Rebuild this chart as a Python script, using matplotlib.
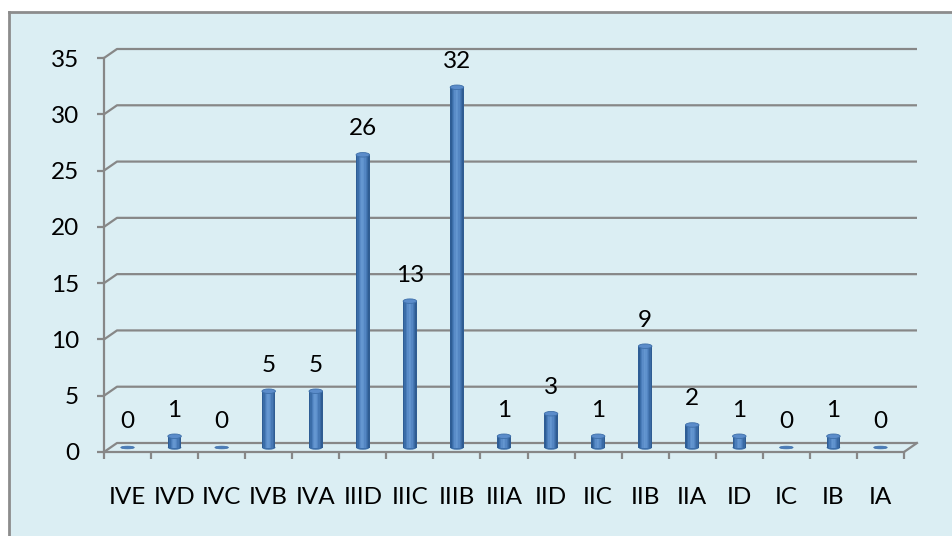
import matplotlib.pyplot as plt
from matplotlib.patches import Ellipse, Rectangle
from matplotlib.lines import Line2D

# data
stages = ['IVE', 'IVD', 'IVC', 'IVB', 'IVA', 'IIID', 'IIIC', 'IIIB', 'IIIA',
          'IID', 'IIC', 'IIB', 'IIA', 'ID', 'IC', 'IB', 'IA']
counts = [0, 1, 0, 5, 5, 26, 13, 32, 1, 3, 1, 9, 2, 1, 0, 1, 0]
y_ticks = [0, 5, 10, 15, 20, 25, 30, 35]

BG = '#DBEEF3'
GRID = '#878787'
plt.rcParams['font.family'] = ['Lato', 'DejaVu Sans']


def main():
    fig = plt.figure(figsize=(9.53, 5.36), dpi=100)
    fig.patch.set_facecolor('white')

    # chart area background + border (top and left only visible)
    fig.patches.append(Rectangle((9 / 953, 0), 1, (536 - 12) / 536,
                                 transform=fig.transFigure, facecolor=BG,
                                 edgecolor='none', zorder=-2))
    fig.lines.append(Line2D([9 / 953, 1], [(536 - 12) / 536] * 2,
                            transform=fig.transFigure, color='#8C8C8C', lw=2,
                            zorder=-1))
    fig.lines.append(Line2D([9 / 953, 9 / 953], [0, (536 - 12) / 536],
                            transform=fig.transFigure, color='#8C8C8C', lw=2,
                            zorder=-1))

    left, right, top, bottom = 104, 904, 58, 452
    ax = fig.add_axes([left / 953, (536 - bottom) / 536,
                       (right - left) / 953, (bottom - top) / 536])
    ax.set_facecolor('none')
    n = len(stages)
    ax.set_xlim(0, n)
    ax.set_ylim(0, 35)

    # pixel -> data conversions for the 3D depth effect
    ppx = (right - left) / n
    ppy = (bottom - top) / 35
    dx = 13 / ppx
    dy = 9 / ppy

    # back wall gridlines with the diagonal joint at the left
    for v in y_ticks:
        ax.plot([0, dx, n + dx], [v, v + dy, v + dy], color=GRID, lw=1.6,
                clip_on=False, zorder=1, solid_capstyle='butt')
    # right edge of the floor
    ax.plot([n + dx, n], [dy, 0], color=GRID, lw=1.6, clip_on=False, zorder=1)

    # cylinder bars
    w = 13.5 / ppx
    eh = 4.5 / ppy
    base = dy / 2
    shades = ['#2E5D95', '#3B6DA8', '#4A7DBA', '#5A8CC8', '#6496D0', '#5F92CD',
              '#5486C3', '#4678B4', '#3A6AA4', '#2F5C92']
    strip = w / len(shades)
    for i, v in enumerate(counts):
        xc = i + 0.5
        if v > 0:
            for k, c in enumerate(shades):
                ax.bar(xc - w / 2 + k * strip, v, width=strip, bottom=base,
                       align='edge', color=c, edgecolor='none', zorder=3)
            ax.add_patch(Ellipse((xc, base), w, eh, facecolor='#3D6FAA',
                                 edgecolor='none', zorder=2.9))
            ax.add_patch(Ellipse((xc, base + v), w, eh, facecolor='#5B8CCA',
                                 edgecolor='#3E6FA9', lw=0.6, zorder=4,
                                 clip_on=False))
        else:
            ax.add_patch(Ellipse((xc, base), w, eh * 0.6, facecolor='#4A7DBA',
                                 edgecolor='#3E6FA9', lw=0.5, zorder=4))
        ax.text(xc, base + v + 26 / ppy, str(v), ha='center', va='center',
                fontsize=17.5, color='black', zorder=5, clip_on=False)

    # axes
    for s in ['top', 'right']:
        ax.spines[s].set_visible(False)
    for s in ['left', 'bottom']:
        ax.spines[s].set_color(GRID)
        ax.spines[s].set_linewidth(1.6)
    ax.set_yticks(y_ticks)
    ax.set_yticklabels([str(t) for t in y_ticks], fontsize=17.5)
    ax.tick_params(axis='y', length=5, width=1.6, color=GRID, pad=13)

    ax.set_xticks(range(n + 1), minor=True)
    ax.set_xticks([i + 0.5 for i in range(n)])
    ax.set_xticklabels(stages, fontsize=17.5)
    ax.tick_params(axis='x', which='minor', length=5, width=1.6, color=GRID)
    ax.tick_params(axis='x', which='major', length=0, pad=25)

    fig.savefig('out.png', dpi=100, facecolor=fig.get_facecolor())


if __name__ == '__main__':
    main()
